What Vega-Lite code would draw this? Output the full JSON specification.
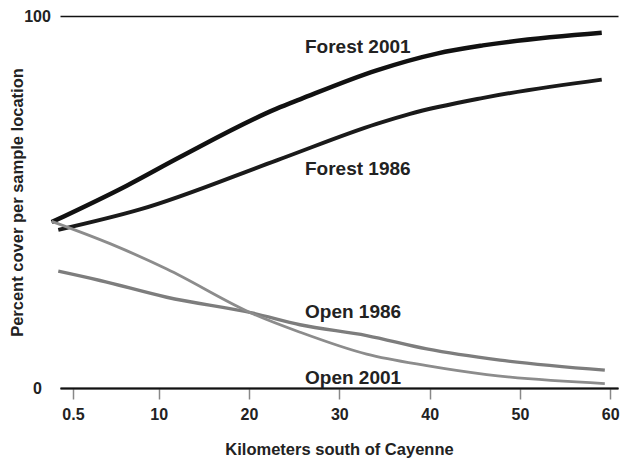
{
  "$schema": "https://vega.github.io/schema/vega-lite/v6.json",
  "width": 558,
  "height": 372,
  "autosize": "none",
  "padding": {"left": 60, "top": 16, "right": 3, "bottom": 70},
  "background": "white",
  "config": {
    "view": {"stroke": null},
    "font": "Liberation Sans",
    "axis": {"labelFont": "Liberation Sans", "titleFont": "Liberation Sans", "labelFontSize": 16, "labelFontWeight": "bold"}
  },
  "datasets": {
    "lines": [
      {"km": -1.85, "pct": 44.6, "series": "Forest 2001"},
      {"km": 6.46, "pct": 54.4, "series": "Forest 2001"},
      {"km": 12.36, "pct": 62.1, "series": "Forest 2001"},
      {"km": 23.07, "pct": 75.1, "series": "Forest 2001"},
      {"km": 25.65, "pct": 77.6, "series": "Forest 2001"},
      {"km": 34.14, "pct": 85.4, "series": "Forest 2001"},
      {"km": 40.8, "pct": 89.9, "series": "Forest 2001"},
      {"km": 45.9, "pct": 92.1, "series": "Forest 2001"},
      {"km": 59.06, "pct": 95.5, "series": "Forest 2001"},
      {"km": -1.12, "pct": 42.5, "series": "Forest 1986"},
      {"km": 7.93, "pct": 48.0, "series": "Forest 1986"},
      {"km": 23.07, "pct": 61.2, "series": "Forest 1986"},
      {"km": 34.14, "pct": 71.0, "series": "Forest 1986"},
      {"km": 37.83, "pct": 73.7, "series": "Forest 1986"},
      {"km": 45.95, "pct": 78.0, "series": "Forest 1986"},
      {"km": 59.06, "pct": 82.9, "series": "Forest 1986"},
      {"km": -1.12, "pct": 31.4, "series": "Open 1986"},
      {"km": 3.5, "pct": 28.9, "series": "Open 1986"},
      {"km": 10.89, "pct": 24.4, "series": "Open 1986"},
      {"km": 20.48, "pct": 20.1, "series": "Open 1986"},
      {"km": 25.65, "pct": 17.0, "series": "Open 1986"},
      {"km": 33.03, "pct": 14.1, "series": "Open 1986"},
      {"km": 39.68, "pct": 10.5, "series": "Open 1986"},
      {"km": 47.8, "pct": 7.5, "series": "Open 1986"},
      {"km": 59.4, "pct": 4.8, "series": "Open 1986"},
      {"km": -1.85, "pct": 44.8, "series": "Open 2001"},
      {"km": 4.61, "pct": 38.8, "series": "Open 2001"},
      {"km": 10.89, "pct": 32.0, "series": "Open 2001"},
      {"km": 20.48, "pct": 19.9, "series": "Open 2001"},
      {"km": 25.65, "pct": 15.0, "series": "Open 2001"},
      {"km": 33.03, "pct": 9.1, "series": "Open 2001"},
      {"km": 39.68, "pct": 6.0, "series": "Open 2001"},
      {"km": 46.32, "pct": 3.6, "series": "Open 2001"},
      {"km": 59.4, "pct": 1.2, "series": "Open 2001"}
    ],
    "labels": [
      {"km": 26.2, "pct": 91.6, "label": "Forest 2001"},
      {"km": 26.2, "pct": 59.0, "label": "Forest 1986"},
      {"km": 26.2, "pct": 20.5, "label": "Open 1986"},
      {"km": 26.2, "pct": 2.8, "label": "Open 2001"}
    ]
  },
  "layer": [
    {
      "data": {"name": "lines"},
      "mark": {"type": "line", "interpolate": "monotone", "strokeCap": "butt"},
      "encoding": {
        "x": {
          "field": "km",
          "type": "quantitative",
          "scale": {"domain": [-0.93, 60.86], "nice": false, "zero": false},
          "axis": {
            "values": [0.5, 10, 20, 30, 40, 50, 60],
            "title": "Kilometers south of Cayenne",
            "titleFontSize": 16.5,
            "titleFontWeight": "bold",
            "titleColor": "#222",
            "titlePadding": 19,
            "labelFontSize": 16,
            "labelFontWeight": "bold",
            "labelColor": "#222",
            "labelPadding": 7,
            "labelFlush": false,
            "labelExpr": "datum.value == 0.5 ? '0.5' : format(datum.value, 'd')",
            "grid": false,
            "domainColor": "#111",
            "domainWidth": 2,
            "tickColor": "#888",
            "tickWidth": 1.5,
            "tickSize": 11
          }
        },
        "y": {
          "field": "pct",
          "type": "quantitative",
          "scale": {"domain": [0, 100], "nice": false},
          "axis": {
            "values": [0, 100],
            "title": "Percent cover per sample location",
            "titleFontSize": 16.5,
            "titleFontWeight": "bold",
            "titleColor": "#222",
            "titlePadding": -2,
            "labelFontSize": 16,
            "labelFontWeight": "bold",
            "labelColor": "#222",
            "labelAlign": "center",
            "labelPadding": 23,
            "ticks": false,
            "domain": false,
            "grid": true,
            "gridColor": "#111",
            "gridWidth": 1.5,
            "gridOpacity": 1
          }
        },
        "color": {
          "field": "series",
          "type": "nominal",
          "scale": {
            "domain": ["Forest 2001", "Forest 1986", "Open 1986", "Open 2001"],
            "range": ["#111111", "#1a1a1a", "#7d7d7d", "#8c8c8c"]
          },
          "legend": null
        },
        "strokeWidth": {
          "field": "series",
          "type": "nominal",
          "scale": {
            "domain": ["Forest 2001", "Forest 1986", "Open 1986", "Open 2001"],
            "range": [4.5, 2.8, 1.8, 1.8]
          },
          "legend": null
        }
      }
    },
    {
      "data": {"name": "labels"},
      "mark": {
        "type": "text",
        "align": "left",
        "baseline": "middle",
        "fontSize": 19,
        "fontWeight": "bold",
        "font": "Liberation Sans",
        "color": "#222"
      },
      "encoding": {
        "x": {"field": "km", "type": "quantitative"},
        "y": {"field": "pct", "type": "quantitative"},
        "text": {"field": "label"}
      }
    }
  ]
}
